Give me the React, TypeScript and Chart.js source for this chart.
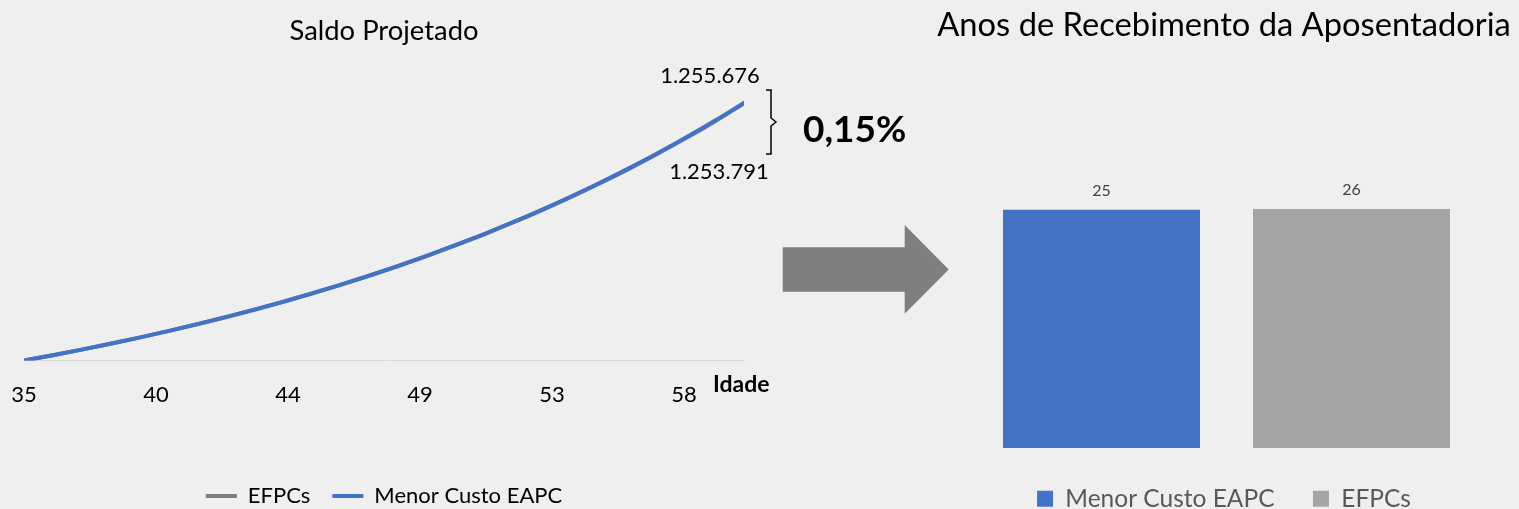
import { useEffect, useRef } from 'react';
import { Chart, registerables } from 'chart.js';

Chart.register(...registerables);

// ---------- data ----------
const ages = [35, 36, 37, 38, 39, 40, 41, 42, 43, 44, 45, 46, 47, 48, 49, 50, 51, 52, 53, 54, 55, 56, 57, 58, 59, 60];
const efpcsSaldo = [0, 25850, 53010, 81530, 111560, 143080, 176210, 211030, 247650, 286170, 326620, 369170, 413890, 460890, 510270, 562220, 616780, 674160, 734490, 797870, 864500, 934570, 1008170, 1085560, 1166920, 1253791];
const menorCustoSaldo = [0, 25870, 53060, 81610, 111680, 143250, 176430, 211310, 248000, 286590, 327130, 369770, 414590, 461710, 511210, 563300, 618010, 675560, 736080, 799660, 866510, 936820, 1010680, 1088350, 1170010, 1255676];
const xTickAges = [35, 39.58, 44.17, 48.75, 53.33, 57.92];
const lineSeriesNames = ['EFPCs', 'Menor Custo EAPC'];
const leftTitle = 'Saldo Projetado';
const xAxisLabel = 'Idade';

const rightTitle = 'Anos de Recebimento da Aposentadoria';
const barSeriesNames = ['Menor Custo EAPC', 'EFPCs'];
const anosRecebimento = [25.4, 25.5];

// ---------- styles ----------
const BG = '#efefef';
const BLUE = '#4472C4';
const LINE_GRAY = '#7f7f7f';
const BAR_GRAY = '#a5a5a5';
const FONT = 'Lato';

const fmtBR = (n: number) => Math.round(n).toString().replace(/\B(?=(\d{3})+(?!\d))/g, '.');

const saldoAnnotations = {
  id: 'saldoAnnotations',
  afterDatasetsDraw(chart: any) {
    const ctx = chart.ctx;
    const meta = chart.getDatasetMeta(1);
    const last = meta.data[meta.data.length - 1];
    const px = last.x;
    const py = last.y;
    const vBlue = menorCustoSaldo[menorCustoSaldo.length - 1];
    const vGray = efpcsSaldo[efpcsSaldo.length - 1];
    const pct = (((vBlue / vGray) - 1) * 100).toFixed(2).replace('.', ',') + '%';
    ctx.save();
    ctx.fillStyle = '#000';
    ctx.textAlign = 'center';
    ctx.textBaseline = 'middle';
    ctx.font = `22px ${FONT}`;
    ctx.fillText(fmtBR(vBlue), px - 34, py - 27);
    ctx.fillText(fmtBR(vGray), px - 25, py + 69);
    ctx.strokeStyle = '#000';
    ctx.lineWidth = 1.5;
    ctx.beginPath();
    ctx.moveTo(px + 22, py - 13);
    ctx.lineTo(px + 27, py - 13);
    ctx.lineTo(px + 27, py + 15);
    ctx.lineTo(px + 32, py + 19);
    ctx.lineTo(px + 27, py + 23);
    ctx.lineTo(px + 27, py + 51);
    ctx.lineTo(px + 22, py + 51);
    ctx.stroke();
    ctx.textAlign = 'left';
    ctx.font = `bold 37px ${FONT}`;
    ctx.fillText(pct, px + 59, py + 27);
    const area = chart.chartArea;
    ctx.font = `bold 23px ${FONT}`;
    ctx.fillText(xAxisLabel, area.right - 31, area.bottom + 24);
    ctx.restore();
  },
};

const barLabels = {
  id: 'barLabels',
  afterDatasetsDraw(chart: any) {
    const ctx = chart.ctx;
    ctx.save();
    ctx.font = `16px ${FONT}`;
    ctx.fillStyle = '#404040';
    ctx.textAlign = 'center';
    ctx.textBaseline = 'middle';
    chart.data.datasets.forEach((ds: any, i: number) => {
      const meta = chart.getDatasetMeta(i);
      meta.data.forEach((el: any, j: number) => {
        ctx.fillText(Math.round(ds.data[j]).toString(), el.x, el.y - 19);
      });
    });
    ctx.restore();
  },
};

export default function App() {
  const leftRef = useRef<HTMLCanvasElement>(null);
  const rightRef = useRef<HTMLCanvasElement>(null);

  useEffect(() => {
    const defaultLabels = (Chart.defaults as any).plugins.legend.labels.generateLabels;

    const left = new Chart(leftRef.current!, {
      type: 'line',
      data: {
        datasets: [
          {
            label: lineSeriesNames[0],
            data: ages.map((a, i) => ({ x: a, y: efpcsSaldo[i] })),
            borderColor: LINE_GRAY,
            backgroundColor: LINE_GRAY,
            borderWidth: 4,
            pointRadius: 0,
            cubicInterpolationMode: 'monotone',
            borderCapStyle: 'round',
            borderJoinStyle: 'round',
            order: 1,
          },
          {
            label: lineSeriesNames[1],
            data: ages.map((a, i) => ({ x: a, y: menorCustoSaldo[i] })),
            borderColor: BLUE,
            backgroundColor: BLUE,
            borderWidth: 4,
            pointRadius: 0,
            cubicInterpolationMode: 'monotone',
            borderCapStyle: 'round',
            borderJoinStyle: 'round',
            order: 0,
          },
        ],
      },
      options: {
        responsive: false,
        animation: false,
        layout: { padding: { left: 24, right: 186, top: 0, bottom: 23 } },
        plugins: {
          title: {
            display: true,
            text: leftTitle,
            color: '#000',
            font: { family: FONT, size: 27.4, weight: 'normal' },
            padding: { top: 31 - 27.4 * 0.6, bottom: 73.4 - (31 - 27.4 * 0.6) - 27.4 * 1.2 },
          },
          legend: {
            position: 'bottom',
            labels: {
              font: { family: FONT, size: 22 },
              color: '#000',
              boxWidth: 31,
              boxHeight: 4,
              padding: 22,
              generateLabels: (chart: any) =>
                defaultLabels(chart)
                  .sort((a: any, b: any) => a.datasetIndex - b.datasetIndex)
                  .map((l: any) => ({ ...l, lineWidth: 0 })),
            },
          },
          tooltip: { enabled: false },
        },
        scales: {
          x: {
            type: 'linear',
            min: 35,
            max: 60,
            afterBuildTicks: (scale: any) => {
              scale.ticks = xTickAges.map((v) => ({ value: v }));
            },
            afterFit: (scale: any) => {
              scale.height = 102.5;
              scale.paddingLeft = 0;
              scale.paddingRight = 0;
            },
            ticks: {
              callback: (v: any) => Math.round(Number(v)).toString(),
              font: { family: FONT, size: 22 },
              color: '#000',
              padding: 21.3,
              maxRotation: 0,
              autoSkip: false,
            },
            grid: { display: false, drawTicks: false },
            border: { display: true, color: '#d9d9d9', width: 1 },
          },
          y: { display: false, min: 0, max: 1400000 },
        },
      },
      plugins: [saldoAnnotations],
    } as any);

    const titleSize = 32.7;
    const right = new Chart(rightRef.current!, {
      type: 'bar',
      data: {
        labels: [''],
        datasets: barSeriesNames.map((n, i) => ({
          label: n,
          data: [anosRecebimento[i]],
          backgroundColor: i === 0 ? BLUE : BAR_GRAY,
          borderWidth: 0,
          barPercentage: 0.788,
          categoryPercentage: 0.8696,
        })),
      },
      options: {
        responsive: false,
        animation: false,
        layout: { padding: { left: 14, right: 5, top: 0, bottom: 19 } },
        plugins: {
          title: {
            display: true,
            text: rightTitle,
            color: '#000',
            font: { family: FONT, size: titleSize, weight: 'normal' },
            padding: { top: 25 - titleSize * 0.6, bottom: 166.7 - (25 - titleSize * 0.6) - titleSize * 1.2 },
          },
          legend: {
            position: 'bottom',
            labels: {
              font: { family: FONT, size: 24.5 },
              color: '#595959',
              boxWidth: 16,
              boxHeight: 16,
              padding: 38.5,
            },
          },
          tooltip: { enabled: false },
        },
        scales: {
          x: { display: false },
          y: {
            display: true,
            min: 0,
            max: 30,
            ticks: { display: false },
            grid: { display: false },
            border: { display: false },
            afterFit: (scale: any) => {
              scale.width = 5;
            },
          },
        },
      },
      plugins: [barLabels],
    } as any);

    return () => {
      left.destroy();
      right.destroy();
    };
  }, []);

  return (
    <div style={{ position: 'fixed', left: 0, top: 0, width: 1519, height: 509, background: BG, overflow: 'hidden' }}>
      <canvas ref={leftRef} width={930} height={540} style={{ position: 'absolute', left: 0, top: 0 }} />
      <svg width={1519} height={509} style={{ position: 'absolute', left: 0, top: 0, pointerEvents: 'none' }}>
        <polygon
          points="782.7,247.3 904.7,247.3 904.7,225 948.7,269.5 904.7,313.7 904.7,291.7 782.7,291.7"
          fill="#7f7f7f"
        />
      </svg>
      <canvas ref={rightRef} width={599} height={540} style={{ position: 'absolute', left: 920, top: 0 }} />
    </div>
  );
}
